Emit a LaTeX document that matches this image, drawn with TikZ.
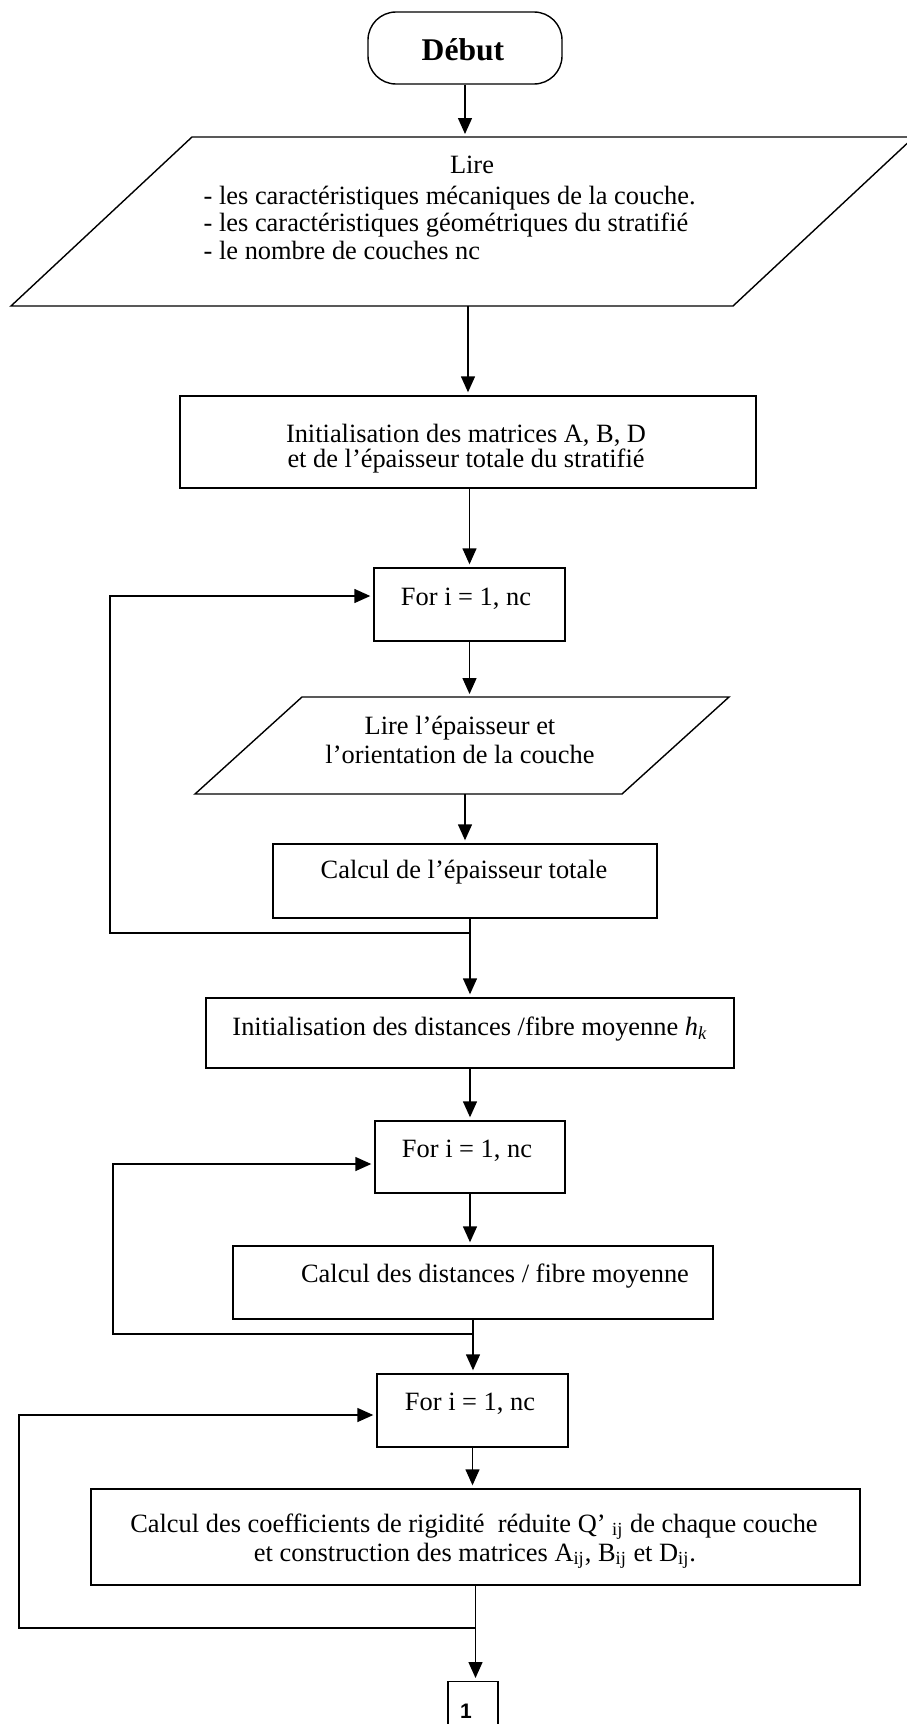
\documentclass[tikz,border=0pt]{standalone}
\usepackage{fontspec}
\setmainfont{Liberation Serif}
\newfontfamily\labelsans{Liberation Sans}
\usetikzlibrary{arrows.meta,calc}

\begin{document}
\begin{tikzpicture}[x=0.5pt,y=-0.5pt,line width=0.7pt,
  flow/.style={-{Triangle[length=8pt,width=7pt]},shorten >=1.5pt},
  procbox/.style={draw,rectangle,inner sep=0pt},
  txt/.style={font=\fontsize{13.2}{13.8}\selectfont,inner sep=0pt,anchor=base},
  ltxt/.style={txt,anchor=base west}]
\useasboundingbox (0,0) rectangle (906,1724);
\fill[white] (0,0) rectangle (906,1724);

% ---- start terminal
\node[procbox,rounded corners=14pt,minimum width=97pt,minimum height=36pt] (start) at (465,48) {};
\node[txt,font=\fontsize{15.8}{17}\selectfont\bfseries] (tstart) at (463,61) {Début};

% ---- input: data of the laminate
\coordinate (p1tl) at (192,137);
\coordinate (p1tr) at (914,137);
\coordinate (p1br) at (733,306);
\coordinate (p1bl) at (11,306);
\draw (p1tl) -- (p1tr) -- (p1br) -- (p1bl) -- cycle;
\node[txt] (tlire) at (472,173) {Lire};
\node[ltxt] (tl1) at (203,204) {- les caractéristiques mécaniques de la couche.};
\node[ltxt] (tl2) at (203,231) {- les caractéristiques géométriques du stratifié};
\node[ltxt] (tl3) at (203,259) {- le nombre de couches nc};

% ---- initialisation of A, B, D
\node[procbox,minimum width=288pt,minimum height=46pt] (init1) at (468,442) {};
\node[txt] (ti1a) at (466,442) {Initialisation des matrices A, B, D};
\node[txt] (ti1b) at (466,467) {et de l’épaisseur totale du stratifié};

% ---- first loop
\node[procbox,minimum width=95.5pt,minimum height=36.5pt] (for1) at (469.5,604.5) {};
\node[txt] (tf1) at (466,605) {For i = 1, nc};

\coordinate (p2tl) at (302,697);
\coordinate (p2tr) at (729,697);
\coordinate (p2br) at (622,794);
\coordinate (p2bl) at (195,794);
\draw (p2tl) -- (p2tr) -- (p2br) -- (p2bl) -- cycle;
\node[txt] (tp2a) at (460,734) {Lire l’épaisseur et};
\node[txt] (tp2b) at (460,763) {l’orientation de la couche};

\node[procbox,minimum width=192pt,minimum height=37pt] (calc1) at (465,881) {};
\node[txt] (tc1) at (464,878) {Calcul de l’épaisseur totale};

% ---- distances to the mid-plane
\node[procbox,minimum width=264pt,minimum height=35pt] (init2) at (470,1033) {};
\node[txt] (ti2) at (470,1035) {Initialisation des distances /fibre moyenne \textit{h}\textsubscript{\textit{k}}};

\node[procbox,minimum width=95pt,minimum height=36pt] (for2) at (470,1157) {};
\node[txt] (tf2) at (467,1157) {For i = 1, nc};

\node[procbox,minimum width=240pt,minimum height=36.5pt] (calc2) at (473,1282.5) {};
\node[txt] (tc2) at (495,1282) {Calcul des distances / fibre moyenne};

% ---- stiffness and laminate matrices
\node[procbox,minimum width=95.5pt,minimum height=36.5pt] (for3) at (472.5,1410.5) {};
\node[txt] (tf3) at (470,1410) {For i = 1, nc};

\node[procbox,minimum width=384.5pt,minimum height=48pt] (calc3) at (475.5,1537) {};
\node[txt] (tc3a) at (474,1532) {Calcul des coefficients de rigidité\ \ réduite Q’ \textsubscript{ij} de chaque couche};
\node[txt] (tc3b) at (475,1561) {et construction des matrices A\textsubscript{ij}, B\textsubscript{ij} et D\textsubscript{ij}.};

% ---- off-page connector
\node[procbox,minimum width=25pt,minimum height=30pt,anchor=north] (conn) at (473,1681) {};
\node[txt,font=\labelsans\bfseries\fontsize{10.5}{12}\selectfont] (tconn) at (466,1718) {1};

% ---- main flow
\draw[flow] (start.south) -- (start.south |- p1tl);
\draw[flow] (init1.north |- p1bl) -- (init1.north);
\draw[flow] (init1.south -| for1.north) -- (for1.north);
\draw[flow] (for1.south) -- (for1.south |- p2tl);
\draw[flow] (calc1.north |- p2bl) -- (calc1.north);
\draw[flow] (calc1.south -| init2.north) -- (init2.north);
\draw[flow] (init2.south) -- (for2.north);
\draw[flow] (for2.south) -- (for2.south |- calc2.north);
\draw[flow] (calc2.south) -- (calc2.south |- for3.north);
\draw[flow] (for3.south) -- (for3.south |- calc3.north);
\draw[flow] (calc3.south) -- (calc3.south |- conn.north);

% ---- loop returns
\coordinate (j1) at (470,933);
\coordinate (c1b) at (110,933);
\coordinate (c1t) at (110,596);
\draw[flow] (j1) -- (c1b) -- (c1t) -- (c1t -| for1.west);

\coordinate (j2) at (473,1334);
\coordinate (c2b) at (113,1334);
\coordinate (c2t) at (113,1164);
\draw[flow] (j2) -- (c2b) -- (c2t) -- (c2t -| for2.west);

\coordinate (j3) at (475.5,1628);
\coordinate (c3b) at (19,1628);
\coordinate (c3t) at (19,1415);
\draw[flow] (j3) -- (c3b) -- (c3t) -- (c3t -| for3.west);
\end{tikzpicture}
\end{document}
